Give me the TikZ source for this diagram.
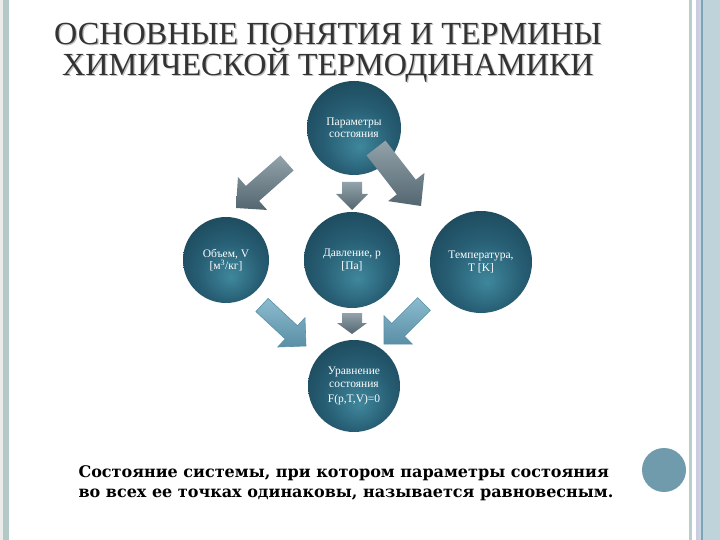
\documentclass[tikz,border=0pt]{standalone}
\usepackage{fontspec}
\usepackage{tikz}
\usetikzlibrary{calc}
\setmainfont{Liberation Serif}
\newfontfamily\notefont{DejaVu Serif}
\definecolor{tealdk}{HTML}{1B4557}
\definecolor{tealmd}{HTML}{275E74}
\definecolor{tealhi}{HTML}{3F879C}
\definecolor{grayhi}{HTML}{93A2AB}
\definecolor{graydk}{HTML}{53666F}
\definecolor{bluehi}{HTML}{8CBBCE}
\definecolor{bluedk}{HTML}{5A8FA6}
\definecolor{dotblue}{HTML}{6F9BAD}
\definecolor{stripl}{HTML}{B2C9C7}
\definecolor{stripa}{HTML}{B9CDCD}
\definecolor{stripb}{HTML}{CBCCE0}
\definecolor{stripc}{HTML}{C6D8DF}
\definecolor{stripd}{HTML}{7CA4B6}
\definecolor{stripe}{HTML}{BFD3DB}
\pgfdeclareradialshading{tealball}{\pgfpoint{3bp}{-10bp}}{color(0bp)=(tealhi); color(18bp)=(tealmd); color(34bp)=(tealdk); color(50bp)=(tealdk)}
% text with a soft gray shadow
\newcommand\shadowed[1]{\rlap{\kern1.2pt\raisebox{-1pt}{\color{black!25}#1}}#1}
% block arrow: [style]{from}{to}{shaft}{head}{head length}
\newcommand\blockarrow[6][]{%
	\coordinate (ba-h) at ($(#3)!#6!(#2)$);
	\path[#1] ($(#2)!#4!90:(#3)$) -- ($(ba-h)!#4!90:(#3)$) -- ($(ba-h)!#5!90:(#3)$) -- (#3)
		-- ($(ba-h)!#5!-90:(#3)$) -- ($(ba-h)!#4!-90:(#3)$) -- ($(#2)!#4!-90:(#3)$) -- cycle;}

\begin{document}
\begin{tikzpicture}[x=1pt, y=-1pt,
	ball/.style={circle, shading=tealball, minimum size=#1, inner sep=0pt, align=center, text=white, font=\fontsize{11.5}{12.5}\selectfont},
	titletext/.style={anchor=base, inner sep=0pt, align=center, font=\fontsize{32.2}{31}\selectfont, text=black!80},
	notetext/.style={anchor=base west, font=\notefont\bfseries\fontsize{16}{20}\selectfont},
	grayarrow/.style={top color=grayhi, bottom color=graydk},
	bluearrow/.style={top color=bluehi, bottom color=bluedk, draw=bluedk, line width=0.6pt}]
	\useasboundingbox (0,0) rectangle (720,540);
	% side strips
	\fill[white] (0,0) rectangle (720,540);
	\fill[black!8] (0,0) rectangle (3,540);
	\fill[stripl] (3,0) rectangle (9,540);
	\fill[stripa] (689,0) rectangle (692,540);
	\fill[stripb] (696,0) rectangle (699,540);
	\fill[stripc] (699,0) rectangle (701,540);
	\fill[stripd] (701,0) rectangle (703,540);
	\fill[stripe] (703,0) rectangle (720,540);
	% title
	\node[titletext] (title) at (328,76) {\shadowed{ОСНОВНЫЕ ПОНЯТИЯ И ТЕРМИНЫ}\\\shadowed{ХИМИЧЕСКОЙ ТЕРМОДИНАМИКИ}};
	% circles
	\node[ball=94pt] (param) at (354,128) {Параметры\\состояния};
	\node[ball=86pt] (vol) at (226,260) {Объем, V\\{[м\textsuperscript{3}/кг]}};
	\node[ball=96pt] (pres) at (352,260) {Давление, p\\{[Па]}};
	\node[ball=102pt] (temp) at (481,262) {Температура,\\T [K]};
	\node[ball=92pt] (eqn) at (354,386) {Уравнение\\состояния\\[3pt]F(p,T,V)=0};
	% arrows
	\coordinate (tl-a) at (287,163); \coordinate (tl-b) at (236,208);
	\coordinate (tm-a) at (352,182); \coordinate (tm-b) at (352,210);
	\coordinate (tr-a) at (376,148); \coordinate (tr-b) at (421,206);
	\coordinate (bl-a) at (262,305); \coordinate (bl-b) at (306,346);
	\coordinate (bm-a) at (352,313); \coordinate (bm-b) at (352,334);
	\coordinate (br-a) at (424,304); \coordinate (br-b) at (384,344);
	\blockarrow[grayarrow]{tl-a}{tl-b}{10pt}{22pt}{22pt}
	\blockarrow[grayarrow]{tm-a}{tm-b}{10pt}{16pt}{16pt}
	\blockarrow[grayarrow]{tr-a}{tr-b}{12pt}{23pt}{24pt}
	\blockarrow[bluearrow]{bl-a}{bl-b}{9pt}{20pt}{20pt}
	\blockarrow[grayarrow]{bm-a}{bm-b}{10pt}{15pt}{11pt}
	\blockarrow[bluearrow]{br-a}{br-b}{9pt}{20pt}{20pt}
	% note
	\node[notetext] (note1) at (75,477) {Состояние системы, при котором параметры состояния};
	\node[notetext] (note2) at (75,497) {во всех ее точках одинаковы, называется равновесным.};
	\node[circle, fill=dotblue, minimum size=44pt, inner sep=0pt] (dot) at (664,470) {};
\end{tikzpicture}
\end{document}
